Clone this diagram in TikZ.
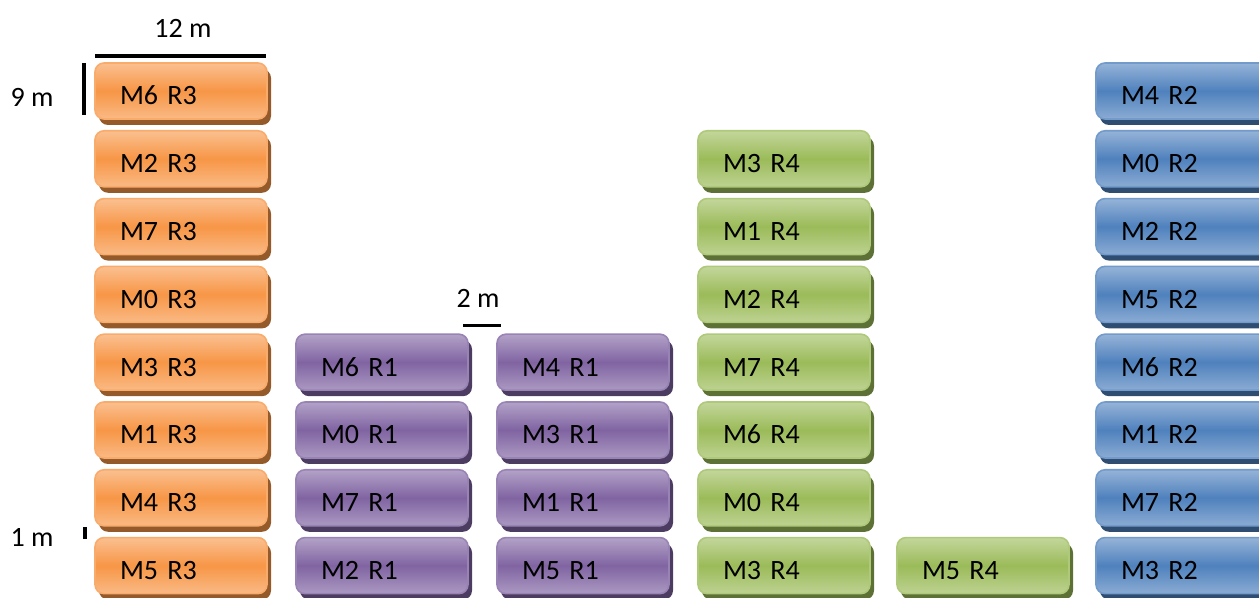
\documentclass[tikz,border=0pt]{standalone}
\usepackage{fontspec}
\setmainfont{Carlito}
\usetikzlibrary{shadows}
\definecolor{orgB}{HTML}{F79646}
\definecolor{purB}{HTML}{8064A2}
\definecolor{grnB}{HTML}{9BBB59}
\definecolor{bluB}{HTML}{4F81BD}
\tikzset{
  box/.style={rectangle, rounded corners=4.5pt, minimum width=86pt, minimum height=28pt,
    text width=61pt, inner xsep=12.5pt, align=left, text height=14pt, text depth=0pt,
    font=\fontsize{14pt}{16pt}\selectfont, line width=0.8pt},
  cbox/.style={box, draw=#1!80!white, top color=#1!60!white, bottom color=#1!66!white, middle color=#1,
    drop shadow={shadow xshift=2pt, shadow yshift=-3pt, fill=#1!60!black, opacity=1}},
  obox/.style={cbox=orgB},
  pbox/.style={cbox=purB},
  gbox/.style={cbox=grnB},
  bbox/.style={cbox=bluB},
  scalebar/.style={line width=2pt, black},
  scalelab/.style={font=\fontsize{14pt}{16pt}\selectfont, inner sep=0pt},
}
\begin{document}
\begin{tikzpicture}[x=0.5pt, y=-0.5pt]
\clip (0,0) rectangle (1259,598);
% orange column
\foreach \lab [count=\i from 0] in {M6,M2,M7,M0,M3,M1,M4,M5}
  \node[obox] (r3-\i) at (181, {91+67.8*\i}) {\lab\ R3};
% purple columns
\foreach \lab [count=\i from 4] in {M6,M0,M7,M2}
  \node[pbox] (r1a-\i) at (382, {91+67.8*\i}) {\lab\ R1};
\foreach \lab [count=\i from 4] in {M4,M3,M1,M5}
  \node[pbox] (r1b-\i) at (583, {91+67.8*\i}) {\lab\ R1};
% green columns
\foreach \lab [count=\i from 1] in {M3,M1,M2,M7,M6,M0,M3}
  \node[gbox] (r4a-\i) at (784, {91+67.8*\i}) {\lab\ R4};
\node[gbox] (r4b-7) at (983, {91+67.8*7}) {M5 R4};
% blue column
\foreach \lab [count=\i from 0] in {M4,M0,M2,M5,M6,M1,M7,M3}
  \node[bbox] (r2-\i) at (1182, {91+67.8*\i}) {\lab\ R2};
% scale annotations
\coordinate (a12) at (95,56);
\coordinate (b12) at (266,56);
\draw[scalebar] (a12) -- (b12);
\node[scalelab] (l12) at (183,28) {12 m};
\coordinate (a9) at (84,63);
\coordinate (b9) at (84,115);
\draw[scalebar] (a9) -- (b9);
\node[scalelab] (l9) at (32,97) {9 m};
\coordinate (a2) at (463,326);
\coordinate (b2) at (501,326);
\draw[scalebar, line width=1.5pt] (a2) -- (b2);
\node[scalelab] (l2) at (478,298) {2 m};
\coordinate (a1) at (85,527);
\coordinate (b1) at (85,539);
\draw[scalebar] (a1) -- (b1);
\node[scalelab] (l1) at (32,537) {1 m};
\end{tikzpicture}
\end{document}
